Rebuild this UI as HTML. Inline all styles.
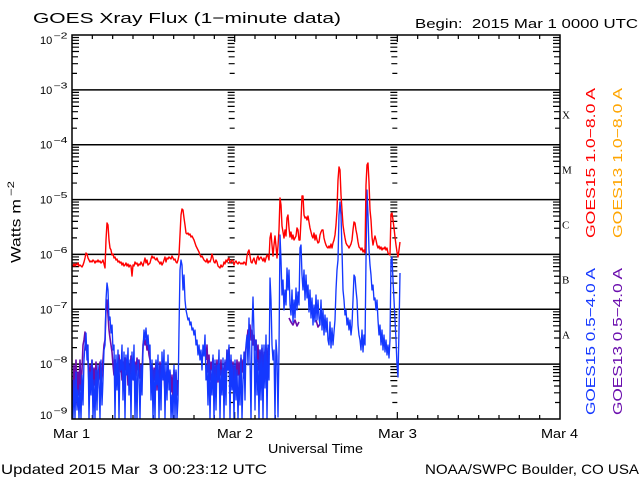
<!DOCTYPE html>
<html>
<head>
<meta charset="utf-8">
<style>
html,body{margin:0;padding:0;background:#fff;}
svg{display:block;}
text{font-family:"Liberation Sans",sans-serif;fill:#000;}
.ser{font-family:"Liberation Serif",serif;}
</style>
</head>
<body>
<svg width="640" height="480" viewBox="0 0 640 480" xmlns="http://www.w3.org/2000/svg">
<defs>
<path id="tkR" d="M0 2.51h7M0 5.32h7M0 8.5h7M0 12.17h7M0 16.51h7M0 21.83h6M0 28.68h6M0 38.34h5" stroke="#000" stroke-width="1.2" fill="none"/>
<path id="tkL" d="M0 2.51h-7M0 5.32h-7M0 8.5h-7M0 12.17h-7M0 16.51h-7M0 21.83h-6M0 28.68h-6M0 38.34h-5" stroke="#000" stroke-width="1.2" fill="none"/>
<g id="colR">
<use href="#tkR" y="35"/><use href="#tkR" y="89.857"/><use href="#tkR" y="144.714"/><use href="#tkR" y="199.571"/><use href="#tkR" y="254.429"/><use href="#tkR" y="309.286"/><use href="#tkR" y="364.143"/>
</g>
<g id="colL">
<use href="#tkL" y="35"/><use href="#tkL" y="89.857"/><use href="#tkL" y="144.714"/><use href="#tkL" y="199.571"/><use href="#tkL" y="254.429"/><use href="#tkL" y="309.286"/><use href="#tkL" y="364.143"/>
</g>
<clipPath id="pc"><rect x="72" y="35" width="488" height="384"/></clipPath>
</defs>
<rect width="640" height="480" fill="#fff"/>

<text x="33" y="23" font-size="15" textLength="308" lengthAdjust="spacingAndGlyphs">GOES Xray Flux (1−minute data)</text>
<text x="415" y="28" font-size="13" textLength="223" lengthAdjust="spacingAndGlyphs">Begin:&#160; 2015 Mar 1 0000 UTC</text>

<g stroke="#000" stroke-width="1.5" fill="none">
<path d="M72 89.857H560M72 144.714H560M72 199.571H560M72 254.429H560M72 309.286H560M72 364.143H560"/>
</g>

<use href="#colR" x="72"/>
<use href="#colL" x="234.67"/>
<use href="#colL" x="397.33"/>
<use href="#colL" x="560"/>

<g stroke="#000" stroke-width="1.2" fill="none">
<path d="M92.33 35v4M112.67 35v4M133 35v4M153.33 35v4M173.67 35v4M194 35v4M214.33 35v4M234.67 35v7M255 35v4M275.33 35v4M295.67 35v4M316 35v4M336.33 35v4M356.67 35v4M377 35v4M397.33 35v7M417.67 35v4M438 35v4M458.33 35v4M478.67 35v4M499 35v4M519.33 35v4M539.67 35v4"/>
<path d="M92.33 419v-4M112.67 419v-4M133 419v-4M153.33 419v-4M173.67 419v-4M194 419v-4M214.33 419v-4M234.67 419v-7M255 419v-4M275.33 419v-4M295.67 419v-4M316 419v-4M336.33 419v-4M356.67 419v-4M377 419v-4M397.33 419v-7M417.67 419v-4M438 419v-4M458.33 419v-4M478.67 419v-4M499 419v-4M519.33 419v-4M539.67 419v-4"/>
</g>

<g clip-path="url(#pc)" fill="none" stroke-linejoin="round">
<polyline stroke="#6a0dad" stroke-width="1.6" points="72,380 73,400 74,365 75,395 76,360 77,405 78,372 79,395 80,360 81,390 82,370 83,345 84,340 85,332 86,350 87,345 88,362 89,385 90,365 91,380 92,360 93,390 94,368 95,385 96,362 97,395 98,370 99,380 100,362 101,385 102,372 103,360 104,345 105,340 106,310 107,300 108,315 109,330 110,338 111,345 112,352 113,365 114,375 115,360 116,380 117,365 118,375 119,355 120,372 121,360 122,380 123,362 124,378 125,358 126,370 127,360 128,385 129,365 130,378 131,356 132,372 133,360 134,380 135,362 136,376 137,358 138,370 139,360 140,378 141,365 142,375 143,345 144,338 145,345 146,340 147,350 148,345 149,355 150,360 151,375 152,365 153,385 154,368 155,380 156,362 157,390 158,370 159,385 160,362 161,380 162,365 163,375 164,370 165,395 166,372 167,388 168,365 169,380 170,372 171,392 172,375 173,400 174,370 175,390 176,372 177,395 178,380"/>
<polyline stroke="#6a0dad" stroke-width="1.6" points="206,360 207,345 208,372 209,355 210,380 211,362 212,370 213,358 214,385 215,365 216,378 217,360 218,382 219,365 220,375 221,360 222,390 223,368 224,380 225,362 226,376 227,350 228,370 229,348 230,380 231,360 232,372 233,362 234,385 235,365 236,380 237,360 238,375 239,362 240,380 241,358 242,372 243,360 244,378 245,355 246,348 247,340 248,330 249,335 250,325 251,340 252,330 253,345 254,335 255,350 256,340 257,362 258,345 259,370 260,350 261,365 262,348 263,375 264,352 265,360 266,345 267,370 268,348 269,355"/>
<polyline stroke="#6a0dad" stroke-width="1.6" points="289,318 291,322 293,325 295,320 297,326 299,322"/>
<polyline stroke="#6a0dad" stroke-width="1.6" points="316,320 318,327 320,324"/>
<polyline stroke="#1438ff" stroke-width="1.35" points="72,400 73,419 74,380 75,419 76,372 77,410 78,390 79,419 80,385 81,419 82,375 83,405 84,360 85,345 86,333 87,360 88,345 89,419 90,372 91,395 92,360 93,419 94,380 95,419 96,370 97,410 98,365 99,380 100,419 101,360 102,405 103,380 104,350 105,345 106,300 107,283 108,290 109,320 110,317 111,333 112,325 113,350 114,345 115,419 116,355 117,390 118,350 119,419 120,360 121,370 122,345 123,400 124,352 125,419 126,355 127,375 128,348 129,395 130,360 131,419 132,352 133,380 134,345 135,419 136,365 137,419 138,360 139,372 140,419 141,365 142,395 143,350 144,330 145,340 146,328 147,345 148,335 149,350 150,345 151,400 152,360 153,419 154,370 155,419 156,360 157,385 158,355 159,419 160,365 161,410 162,352 163,380 164,350 165,419 166,362 167,400 168,355 169,390 170,370 171,419 172,395 173,419 174,365 175,419 176,370 177,419 178,400 179,330 180,270 181,260 182,265 183,290 184,275 185,300 186,310 187,315 188,320 189,318 190,325 191,322 192,330 193,328 194,335 195,330 196,345 197,340 198,355 199,345 200,360 201,350 202,370 203,345 204,356 205,335 206,380 207,365 208,405 209,360 210,419 211,370 212,395 213,355 214,419 215,360 216,410 217,365 218,380 219,350 220,419 221,370 222,395 223,358 224,419 225,360 226,405 227,350 228,370 229,345 230,419 231,355 232,390 233,365 234,419 235,360 236,400 237,370 238,419 239,375 240,405 241,355 242,419 243,380 244,352 245,400 246,345 247,335 248,365 249,318 250,360 251,419 252,330 253,297 254,333 255,410 256,340 257,395 258,360 259,419 260,350 261,400 262,345 263,419 264,345 265,388 266,335 267,419 268,345 269,380 270,278 271,300 272,345 273,360 274,350 275,419 276,340 277,356 278,417 279,350 280,235 281,260 282,295 283,280 284,310 285,290 286,305 287,268 288,290 289,270 290,305 291,315 292,290 293,322 294,300 295,318 296,288 297,310 298,292 299,305 300,248 301,245 302,275 303,290 304,270 305,300 306,275 307,298 308,285 309,312 310,290 311,318 312,298 313,325 314,305 315,322 316,295 317,320 318,300 319,318 320,325 321,300 322,330 323,310 324,335 325,315 326,332 327,318 328,340 329,345 330,322 331,348 332,328 333,345 334,332 335,320 336,290 337,270 338,260 339,215 340,202 341,215 342,250 343,290 344,300 345,315 346,310 347,325 348,318 349,330 350,320 351,335 352,325 353,300 354,275 355,277 356,290 357,300 358,325 359,335 360,340 361,350 362,330 363,352 364,335 365,345 366,260 367,190 368,215 369,250 370,265 371,275 372,290 373,285 374,300 375,298 376,310 377,300 378,320 379,335 380,325 381,345 382,330 383,350 384,335 385,352 386,340 387,355 388,345 389,358 390,340 391,260 392,257 393,280 394,300 395,320 396,340 397,365 398,377 399,330 400,273"/>
<polyline stroke="#ff0000" stroke-width="1.4" points="72,265 73,266 74,264 75,266 76,264 77,265 78,263 79,266 80,265 81,266 82,267 83,265 84,262 85,258 86,253 87,254 88,258 89,260 90,262 91,261 92,262 93,260 94,261 95,263 96,261 97,262 98,260 99,262 100,261 101,263 102,262 103,260 104,264 105,268 106,240 107,223 108,225 109,240 110,248 111,250 112,255 113,254 114,258 115,257 116,260 117,259 118,262 119,261 120,263 121,262 122,265 123,263 124,266 125,265 126,263 127,266 128,264 129,267 130,265 131,266 132,276 133,265 134,266 135,262 136,264 137,263 138,266 139,264 140,265 141,262 142,264 143,266 144,262 145,258 146,263 147,260 148,265 149,264 150,263 151,259 152,256 153,258 154,257 155,259 156,260 157,258 158,261 159,262 160,264 161,262 162,265 163,263 164,260 165,257 166,262 167,258 168,259 169,257 170,258 171,259 172,256 173,258 174,260 175,259 176,262 177,263 178,260 179,255 180,235 181,215 182,209 183,210 184,218 185,225 186,233 187,234 188,233 189,235 190,234 191,237 192,236 193,238 194,240 195,243 196,246 197,248 198,250 199,252 200,255 201,257 202,256 203,258 204,260 205,261 206,262 207,259 208,263 209,261 210,262 211,259 212,254 213,258 214,262 215,263 216,260 217,262 218,266 219,267 220,268 221,265 222,267 223,266 224,262 225,264 226,260 227,262 228,259 229,258 230,263 231,262 232,260 233,261 234,265 235,262 236,261 237,263 238,264 239,262 240,263 241,264 242,263 243,264 244,262 245,263 246,265 247,256 248,252 249,250 250,256 251,262 252,263 253,260 254,258 255,262 256,264 257,258 258,256 259,260 260,258 261,257 262,259 263,261 264,258 265,262 266,258 267,255 268,256 269,260 270,238 271,233 272,245 273,256 274,245 275,236 276,246 277,258 278,246 279,230 280,198 281,205 282,226 283,232 284,238 285,230 286,236 287,218 288,215 289,228 290,237 291,232 292,239 293,235 294,240 295,238 296,236 297,228 298,230 299,240 300,240 301,220 302,196 303,196 304,215 305,218 306,217 307,220 308,216 309,222 310,228 311,232 312,236 313,238 314,233 315,240 316,235 317,240 318,243 319,242 320,235 321,232 322,230 323,230 324,238 325,242 326,245 327,247 328,248 329,246 330,248 331,244 332,248 333,243 334,240 335,235 336,225 337,210 338,180 339,167 340,170 341,195 342,210 343,225 344,232 345,238 346,243 347,245 348,246 349,248 350,246 351,244 352,240 353,230 354,222 355,223 356,230 357,235 358,242 359,247 360,248 361,250 362,248 363,252 364,250 365,253 366,185 367,165 368,163 369,182 370,210 371,220 372,237 373,245 374,240 375,236 376,240 377,245 378,248 379,246 380,249 381,247 382,250 383,248 384,249 385,247 386,250 387,248 388,253 389,254 390,255 391,214 392,213 393,220 394,228 395,237 396,245 397,252 398,257 399,250 400,242"/>
</g>

<rect x="72" y="35" width="488" height="384" fill="none" stroke="#000" stroke-width="1.5"/>

<g font-size="11">
<text x="40" y="44">10</text><text x="53.5" y="38.5" font-size="8" textLength="14" lengthAdjust="spacingAndGlyphs">−2</text>
<text x="40" y="93.9">10</text><text x="53.5" y="88.4" font-size="8" textLength="14" lengthAdjust="spacingAndGlyphs">−3</text>
<text x="40" y="148.7">10</text><text x="53.5" y="143.2" font-size="8" textLength="14" lengthAdjust="spacingAndGlyphs">−4</text>
<text x="40" y="203.6">10</text><text x="53.5" y="198.1" font-size="8" textLength="14" lengthAdjust="spacingAndGlyphs">−5</text>
<text x="40" y="258.4">10</text><text x="53.5" y="252.9" font-size="8" textLength="14" lengthAdjust="spacingAndGlyphs">−6</text>
<text x="40" y="313.3">10</text><text x="53.5" y="307.8" font-size="8" textLength="14" lengthAdjust="spacingAndGlyphs">−7</text>
<text x="40" y="368.1">10</text><text x="53.5" y="362.6" font-size="8" textLength="14" lengthAdjust="spacingAndGlyphs">−8</text>
<text x="40" y="419">10</text><text x="53.5" y="413.5" font-size="8" textLength="14" lengthAdjust="spacingAndGlyphs">−9</text>
</g>

<text transform="translate(20.5,263) rotate(-90)" font-size="14" textLength="64" lengthAdjust="spacingAndGlyphs">Watts m</text>
<text transform="translate(14,196) rotate(-90)" font-size="9" textLength="15" lengthAdjust="spacingAndGlyphs">−2</text>

<g font-size="11">
<text class="ser" x="562" y="118.5">X</text>
<text class="ser" x="562" y="173.5">M</text>
<text class="ser" x="562" y="228.5">C</text>
<text class="ser" x="562" y="283.5">B</text>
<text class="ser" x="562" y="338.5">A</text>
</g>

<text transform="translate(595,238) rotate(-90)" font-size="13" textLength="150" lengthAdjust="spacingAndGlyphs" style="fill:#ff0000">GOES15 1.0−8.0 A</text>
<text transform="translate(622,238) rotate(-90)" font-size="13" textLength="150" lengthAdjust="spacingAndGlyphs" style="fill:#ffa500">GOES13 1.0−8.0 A</text>
<text transform="translate(595,415) rotate(-90)" font-size="13" textLength="147" lengthAdjust="spacingAndGlyphs" style="fill:#1438ff">GOES15 0.5−4.0 A</text>
<text transform="translate(622,415) rotate(-90)" font-size="13" textLength="147" lengthAdjust="spacingAndGlyphs" style="fill:#6a0dad">GOES13 0.5−4.0 A</text>

<text x="53" y="438" font-size="13" textLength="37" lengthAdjust="spacingAndGlyphs">Mar 1</text>
<text x="217" y="438" font-size="13" textLength="36" lengthAdjust="spacingAndGlyphs">Mar 2</text>
<text x="378" y="438" font-size="13" textLength="39" lengthAdjust="spacingAndGlyphs">Mar 3</text>
<text x="541" y="438" font-size="13" textLength="37" lengthAdjust="spacingAndGlyphs">Mar 4</text>
<text x="268" y="453" font-size="13" textLength="95" lengthAdjust="spacingAndGlyphs">Universal Time</text>

<text x="1" y="474" font-size="14" textLength="266" lengthAdjust="spacingAndGlyphs">Updated 2015 Mar&#160; 3 00:23:12 UTC</text>
<text x="425" y="474" font-size="14" textLength="214" lengthAdjust="spacingAndGlyphs">NOAA/SWPC Boulder, CO USA</text>
</svg>
</body>
</html>
